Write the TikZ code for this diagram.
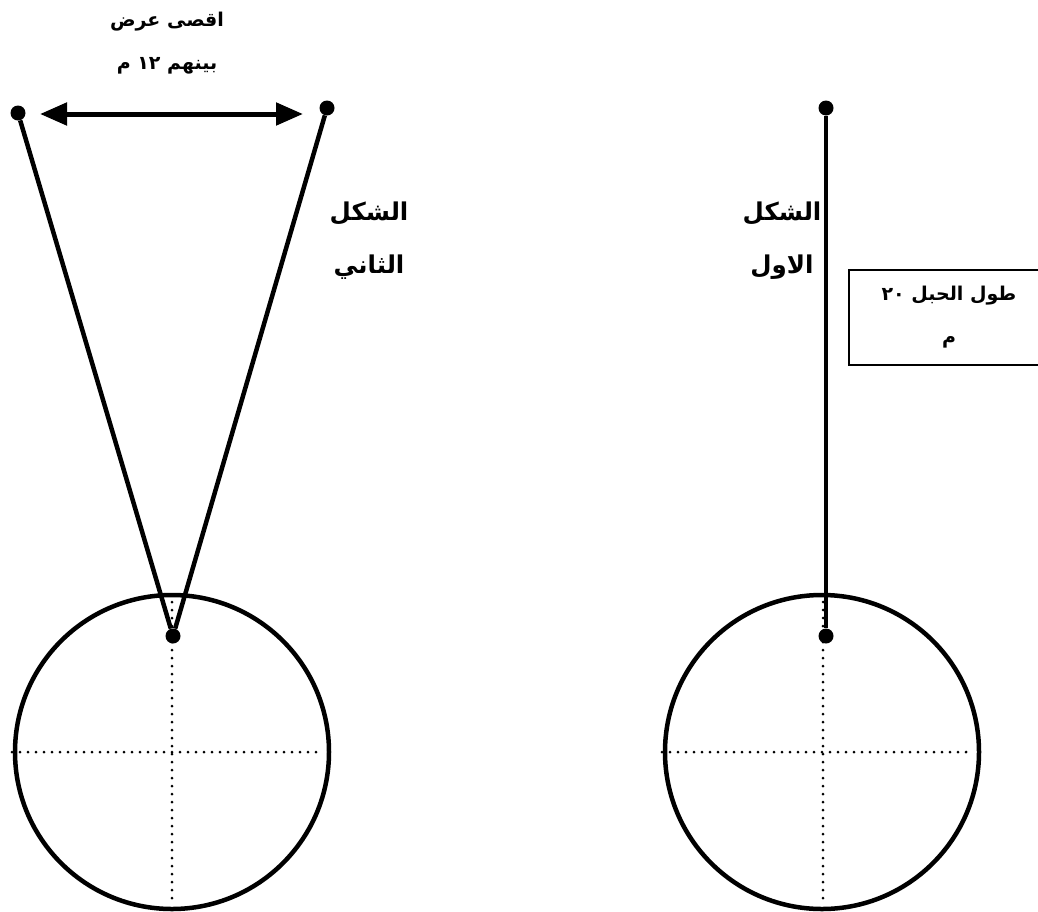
\documentclass[tikz,border=0pt]{standalone}
\usepackage{fontspec}
\newfontfamily\arabicfont[Script=Arabic]{DejaVu Sans}
\TeXXeTstate=1
\usetikzlibrary{positioning, arrows.meta}

\begin{document}
\begin{tikzpicture}[x=1pt, y=-1pt,
  dot/.style={circle, fill=black, inner sep=0pt, minimum size=15pt},
  rope/.style={line width=4.5pt},
  ball/.style={line width=4.5pt},
  axis/.style={line width=3pt, line cap=round, dash pattern=on 0pt off 8pt},
  span/.style={{Triangle[length=27pt,width=22pt]}-{Triangle[length=27pt,width=22pt]}, line width=5pt},
  title/.style={font=\arabicfont\bfseries\fontsize{24.5}{53}\selectfont, align=center},
  note/.style={font=\arabicfont\bfseries\fontsize{19}{43}\selectfont, align=center}]
\useasboundingbox (0,0) rectangle (1038,911);

% second shape: two ropes meeting at the ball
\node[dot] (tl) at (18,113) {};
\node[dot] (tr) at (327,108) {};
\node[dot] (pl) at (173,636) {};
\draw[rope] (tl) -- (pl);
\draw[rope] (tr) -- (pl);
\coordinate (cl) at (172,752);
\draw[ball] (cl) circle[radius=157];
\draw[axis] (12,752) -- (322,752);
\draw[axis] (172,602) -- (172,903);
\coordinate (wl) at (40,114);
\coordinate (wr) at (303,114);
\draw[span] (wl) -- (wr);
\node[note] (wd) at (167,43) {\beginR اقصى عرض\endR\\\beginR بينهم \beginL١٢\endL{} م\endR};
\node[title] (t2) at (369,241) {\beginR الشكل\endR\\\beginR الثاني\endR};

% first shape: one rope
\node[dot] (tt) at (826,108) {};
\node[dot] (pr) at (826,636) {};
\draw[rope] (tt) -- (pr);
\coordinate (cr) at (822,752);
\draw[ball] (cr) circle[radius=157];
\draw[axis] (662,752) -- (972,752);
\draw[axis] (823,602) -- (823,903);
\node[title] (t1) at (782,241) {\beginR الشكل\endR\\\beginR الاول\endR};
\node[note, draw, line width=2pt, minimum width=200pt, minimum height=95pt]
  (len) at (949,317) {\beginR طول الحبل \beginL٢٠\endL\endR\\\beginR م\endR};
\end{tikzpicture}
\end{document}
